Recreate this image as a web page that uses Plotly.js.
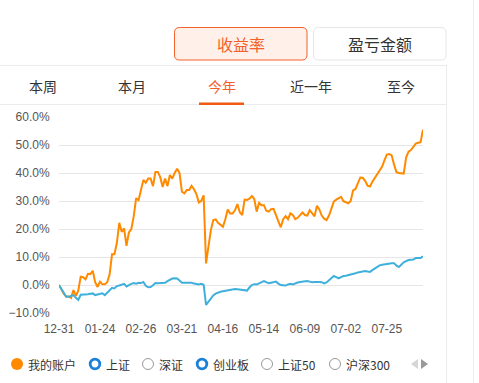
<!DOCTYPE html>
<html>
<head>
<meta charset="utf-8">
<script src="https://cdn.plot.ly/plotly-3.0.1.min.js"></script>
<style>
html,body{margin:0;padding:0;background:#fff;}
#chart{width:479px;height:383px;}
</style>
</head>
<body>
<div id="chart"></div>
<script>
// ---- data ----
var tickLabels = ["12-31","01-24","02-26","03-21","04-16","05-14","06-09","07-02","07-25"];
var tickIndex = [0,17,34,51,68,85,102,119,136];

var myAccount = [
 0,-1.8,-3.2,-4.1,-4.1,-4.6,-1.8,-3.9,-2,3,
 2.8,2,4,3.9,5.1,1,-0.7,1.2,0.3,0.3,
 1,3.8,11,11,15,22.2,19,20.2,14,18.8,
 20,24.5,31,30.3,34.5,37.5,36.5,38,38,35.3,
 40.4,40.4,38.5,35,38,35.3,39.3,38,40,41.5,
 40,33.3,32.7,33.9,33.9,35.4,34.2,32.5,29.5,30,
 32,7.7,13.7,19.6,23.2,23.4,22.2,21.6,20.8,23.5,
 27,25.5,25.5,26.7,28.9,26,25,30.5,30.4,30.8,
 31.8,30.7,26.2,29.3,28.5,28.5,26.5,26.2,27.1,27.2,
 25.1,22.6,20.6,23.5,24.6,23.5,25.6,25,23.5,24,
 25,25.9,25,24.8,26.7,25.5,24.5,28.3,27,24.8,
 23.7,23.2,24.8,27.3,29.8,30.5,31,31.5,29.9,29.6,
 29.2,30,33.8,34.3,36.5,38.4,38.3,37.2,35.5,35.2,
 36.9,38.3,39.8,40.9,42.2,44.5,46.6,46.8,46.3,43,
 40.3,40,40,39.8,45.5,47.6,48.2,49.5,50.5,50.8,
 51,55.5
];
var shangzheng = [
 0,-1.3,-3,-4.2,-4.2,-3.8,-3.6,-4.6,-5.3,-3.5,
 -3.5,-3.5,-3.3,-3.1,-3,-3.6,-3.4,-3,-3,-3.6,
 -2.8,-1.8,-1,-1.2,-0.4,-0.2,0.2,0.4,-0.5,0.1,
 0.4,0.7,0.5,0.8,0.7,1.1,-0.3,-0.8,-0.7,-0.1,
 0.7,0.6,0.7,0.7,0.8,1.4,2,2.3,2.4,2.3,
 1.6,0.8,0.8,0.8,0.8,0.8,0.5,0.3,0.2,0.4,
 0.1,-7.1,-5.9,-4.6,-3.7,-3.1,-2.7,-2.4,-2.2,-2,
 -2,-1.7,-1.4,-1.4,-1.5,-1.6,-1.8,-2,-2,-0.9,
 0,0.3,0.2,0.6,1,1.4,1,0.6,0.8,1,
 1.2,0.5,0,-0.1,-0.2,0.2,0.4,0.2,0.6,0.9,
 1.1,1.2,1.3,1.4,1.2,1,1.1,1.2,1.1,1,
 0.6,0.9,1.6,2.5,3.2,2.8,2.4,2.8,3.2,3.3,
 3.5,3.6,4,4.2,4.5,4.7,4.9,5,4.8,4.7,
 5.3,5.9,6.5,7,7.2,7.4,7.6,7.7,7.8,7.8,
 6.9,6.4,7.3,8.1,8.5,8.9,9,9.1,9.6,9.7,
 9.6,10.3
];
var legendNames = ["我的账户","上证","深证","创业板","上证50","沪深300"];
var tabNames = ["本周","本月","今年","近一年","至今"];
var buttonNames = ["收益率","盈亏金额"];

// ---- layout helpers (pixel -> paper) ----
var L = 59, R = 56, T = 117, B = 70, W = 479, H = 383;
var PW = W - L - R, PH = H - T - B;
function px(x){ return (x - L) / PW; }
function py(y){ return (H - B - y) / PH; }

var idx = myAccount.map(function(_, i){ return i; });

var ORANGE = "#ff8a00", BLUE = "#3fb0dc", RED = "#f4602a";
var CJK = "Noto Sans CJK SC, sans-serif";

var traces = [
 {x: idx, y: myAccount, type: "scatter", mode: "lines", line: {color: ORANGE, width: 2}, cliponaxis: false, hoverinfo: "skip"},
 {x: idx, y: shangzheng, type: "scatter", mode: "lines", line: {color: BLUE, width: 2}, cliponaxis: false, hoverinfo: "skip"}
];

var shapes = [], annotations = [];
function roundRect(x0, y0, x1, y1, r){
  function P(x, y){ return px(x) + "," + py(y); }
  return "M" + P(x0 + r, y0) + " L" + P(x1 - r, y0) +
    " Q" + P(x1, y0) + " " + P(x1, y0 + r) +
    " L" + P(x1, y1 - r) + " Q" + P(x1, y1) + " " + P(x1 - r, y1) +
    " L" + P(x0 + r, y1) + " Q" + P(x0, y1) + " " + P(x0, y1 - r) +
    " L" + P(x0, y0 + r) + " Q" + P(x0, y0) + " " + P(x0 + r, y0) + " Z";
}
// buttons
shapes.push({type:"path", xref:"paper", yref:"paper", layer:"below",
  path: roundRect(174.5, 27.5, 307, 60, 5), line:{color:RED, width:1}, fillcolor:"#fff0ea"});
shapes.push({type:"path", xref:"paper", yref:"paper", layer:"below",
  path: roundRect(313.5, 27.5, 446, 60, 5), line:{color:"#e6e6e6", width:1}, fillcolor:"#ffffff"});
annotations.push({text: buttonNames[0], x: px(241), y: py(44), xref:"paper", yref:"paper", showarrow:false,
  font:{family:CJK, size:16, color:RED}, xanchor:"center", yanchor:"middle"});
annotations.push({text: buttonNames[1], x: px(380), y: py(44), xref:"paper", yref:"paper", showarrow:false,
  font:{family:CJK, size:16, color:"#333"}, xanchor:"center", yanchor:"middle"});
// tab box lines
shapes.push({type:"line", xref:"paper", yref:"paper", x0:px(0), x1:px(446), y0:py(65.5), y1:py(65.5), line:{color:"#ebebeb", width:1}});
shapes.push({type:"line", xref:"paper", yref:"paper", x0:px(0), x1:px(446), y0:py(104.5), y1:py(104.5), line:{color:"#ebebeb", width:1}});
shapes.push({type:"line", xref:"paper", yref:"paper", x0:px(446.5), x1:px(446.5), y0:py(65), y1:py(383), line:{color:"#ebebeb", width:1}});
shapes.push({type:"line", xref:"paper", yref:"paper", x0:px(473.5), x1:px(473.5), y0:py(0), y1:py(383), line:{color:"#eeeeee", width:1}});
var tabX = [43, 132, 222, 311, 401];
tabNames.forEach(function(t, i){
  annotations.push({text: t, x: px(tabX[i]), y: py(86), xref:"paper", yref:"paper", showarrow:false,
    font:{family:CJK, size:14, color: i === 2 ? RED : "#333"}, xanchor:"center", yanchor:"middle"});
});
shapes.push({type:"rect", xref:"paper", yref:"paper", x0:px(199), x1:px(244), y0:py(102.5), y1:py(105), line:{width:0}, fillcolor:"#f05a14"});

// legend
var legX = [17, 95, 148, 202, 267, 335];
var legStyle = ["fill","ringBlue","ring","ringBlue","ring","ring"];
legendNames.forEach(function(t, i){
  var cx = legX[i], cy = 364, r = 6;
  var st = legStyle[i];
  if (st === "fill") {
    shapes.push({type:"circle", xref:"paper", yref:"paper", x0:px(cx-r), x1:px(cx+r), y0:py(cy+r), y1:py(cy-r), line:{width:0}, fillcolor:ORANGE});
  } else if (st === "ringBlue") {
    shapes.push({type:"circle", xref:"paper", yref:"paper", x0:px(cx-4.8), x1:px(cx+4.8), y0:py(cy+4.8), y1:py(cy-4.8), line:{width:2.8, color:"#1b80d8"}, fillcolor:"#fff"});
  } else {
    shapes.push({type:"circle", xref:"paper", yref:"paper", x0:px(cx-5.5), x1:px(cx+5.5), y0:py(cy+5.5), y1:py(cy-5.5), line:{width:1, color:"#999"}, fillcolor:"#fff"});
  }
  annotations.push({text: t, x: px(cx + 9), y: py(cy), xref:"paper", yref:"paper", showarrow:false,
    font:{family:CJK, size:12, color:"#333"}, xanchor:"left", yanchor:"middle"});
});
// arrows
shapes.push({type:"path", xref:"paper", yref:"paper",
  path: "M" + px(418) + "," + py(359) + " L" + px(411) + "," + py(364) + " L" + px(418) + "," + py(369) + " Z",
  line:{width:0}, fillcolor:"#d6d6d6"});
shapes.push({type:"path", xref:"paper", yref:"paper",
  path: "M" + px(421) + "," + py(359) + " L" + px(428) + "," + py(364) + " L" + px(421) + "," + py(369) + " Z",
  line:{width:0}, fillcolor:"#999"});

var layout = {
  width: W, height: H,
  margin: {l: L, r: R, t: T, b: B, pad: 0},
  paper_bgcolor: "#fff", plot_bgcolor: "#fff",
  showlegend: false,
  xaxis: {
    range: [0, 151], showgrid: false, zeroline: false, showline: false,
    tickmode: "array", tickvals: tickIndex, ticktext: tickLabels,
    ticks: "outside", ticklen: 5, tickcolor: "rgba(0,0,0,0)",
    tickfont: {family: "Liberation Sans, Arial, sans-serif", size: 12, color: "#555"},
    fixedrange: true
  },
  yaxis: {
    range: [-10, 60], dtick: 10, tick0: 0, showgrid: true, gridcolor: "#e6e6e6", gridwidth: 1,
    zeroline: false, showline: false, ticks: "outside", ticklen: 6, tickcolor: "rgba(0,0,0,0)",
    ticksuffix: "%", tickformat: ".1f",
    tickfont: {family: "Liberation Sans, Arial, sans-serif", size: 12, color: "#555"},
    fixedrange: true
  },
  shapes: shapes,
  annotations: annotations
};

Plotly.newPlot("chart", traces, layout, {staticPlot: true, displayModeBar: false});
</script>
</body>
</html>
